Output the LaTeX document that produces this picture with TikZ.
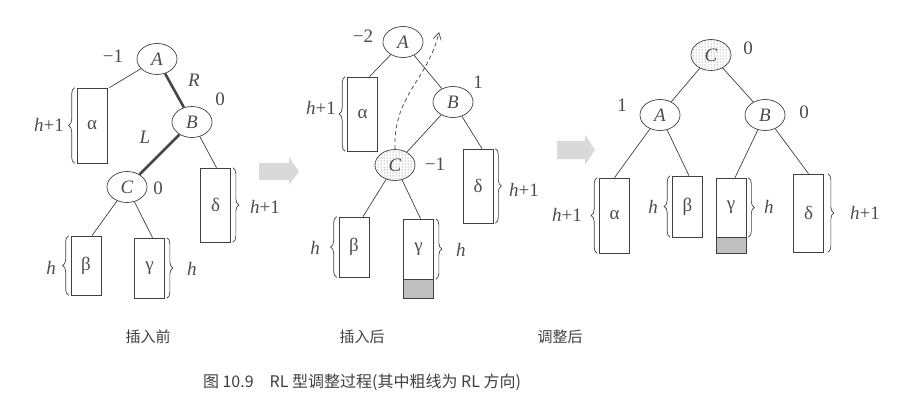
\documentclass[tikz,border=0pt]{standalone}
\usepackage{fontspec}
\setmainfont{Liberation Serif}
\newfontfamily\cjk{Noto Sans CJK SC}
\usetikzlibrary{shapes.geometric,decorations.pathreplacing,patterns,arrows.meta}
\begin{document}
\begin{tikzpicture}[x=1pt,y=-1pt,
  tnode/.style={ellipse,draw=black!75,line width=0.7pt,minimum width=40pt,minimum height=31pt,inner sep=0pt,font=\fontsize{19}{21}\selectfont\itshape,text=black!70},
  hot/.style={tnode,pattern=dots,pattern color=black!65},
  sub/.style={rectangle,draw=black!75,line width=0.7pt,minimum width=30pt,inner sep=0pt,font=\fontsize{19}{21}\selectfont,text=black!70},
  subfill/.style={sub,fill=black!25,minimum height=19pt,anchor=north},
  tedge/.style={draw=black!75,line width=0.7pt},
  thick edge/.style={draw=black!72,line width=2.6pt},
  lbl/.style={font=\fontsize{19}{21}\selectfont,text=black!70,inner sep=1pt},
  brc/.style={decorate,decoration={brace,amplitude=6pt},draw=black!75,line width=0.7pt},
  blk/.style={fill=black!15,draw=none},
  capt/.style={font=\cjk\fontsize{15}{17}\selectfont,text=black!75},
  figcapt/.style={font=\cjk\fontsize{16}{18}\selectfont,text=black!75}
]
\useasboundingbox (0,0) rectangle (902,407);

% ---------------- panel 1 ----------------
\node[tnode] (A1) at (157,59) {A};
\node[tnode] (B1) at (192,122) {B};
\node[tnode] (C1) at (127,187) {C};
\node[sub,minimum height=75pt] (al1) at (92,125.5) {α};
\node[sub,minimum height=74pt] (de1) at (215.5,205) {δ};
\node[sub,minimum height=59pt] (be1) at (86,265.5) {β};
\node[sub,minimum height=60pt] (ga1) at (149.5,268) {γ};
\draw[tedge] (A1) -- ([xshift=2pt]al1.north east);
\draw[thick edge] (A1) -- (B1);
\draw[thick edge] (B1) -- (C1);
\draw[tedge] (B1) -- ([xshift=1pt]de1.north);
\draw[tedge] (C1) -- ([xshift=6pt]be1.north);
\draw[tedge] (C1) -- ([xshift=3pt]ga1.north);
\node[lbl] (nA1) at (113,56) {−1};
\node[lbl] (nR1) at (194,80) {\textit{R}};
\node[lbl] (nB1) at (220,99) {0};
\node[lbl] (nL1) at (145,137) {\textit{L}};
\node[lbl] (nC1) at (158,188) {0};
\draw[brc] ([xshift=-2pt]al1.south west) -- ([xshift=-2pt]al1.north west);
\node[lbl,anchor=east] (hal1) at (65,125) {\textit{h}+1};
\draw[brc] ([xshift=2pt]de1.north east) -- ([xshift=2pt]de1.south east);
\node[lbl,anchor=west] (hde1) at (249,207) {\textit{h}+1};
\draw[brc] ([xshift=-2pt]be1.south west) -- ([xshift=-2pt]be1.north west);
\node[lbl,anchor=east] (hbe1) at (57,268) {\textit{h}};
\draw[brc] ([xshift=2pt]ga1.north east) -- ([xshift=2pt]ga1.south east);
\node[lbl,anchor=west] (hga1) at (186,269) {\textit{h}};

% block arrow 1
\fill[blk] (259,163) -- (289,163) -- (289,157) -- (299,171.5) -- (289,185) -- (289,180) -- (259,180) -- cycle;

% ---------------- panel 2 ----------------
\node[tnode] (A2) at (403,42) {A};
\node[tnode] (B2) at (453,102) {B};
\node[hot] (C2) at (395,165) {C};
\node[sub,minimum height=74pt] (al2) at (362.5,114) {α};
\node[sub,minimum height=74pt] (de2) at (478,186) {δ};
\node[sub,minimum height=60pt] (be2) at (354,247) {β};
\node[sub,minimum height=60pt] (ga2) at (418.5,249) {γ};
\node[subfill] (sh2) at (ga2.south) {};
\draw[tedge] (A2) -- ([xshift=7pt]al2.north);
\draw[tedge] (A2) -- (B2);
\draw[tedge] (B2) -- (C2);
\draw[tedge] (B2) -- ([xshift=4pt]de2.north);
\draw[tedge] (C2) -- ([xshift=9pt]be2.north);
\draw[tedge] (C2) -- ([xshift=2pt]ga2.north);
\coordinate (d2) at (439,32);
\draw[tedge,dash pattern=on 4pt off 3pt,-{Straight Barb[angle=60:8pt]}] (C2.north) .. controls (393,95) and (428,80) .. (d2);
\node[lbl] (nA2) at (363,36) {−2};
\node[lbl] (nB2) at (478,82) {1};
\node[lbl] (nC2) at (435,164) {−1};
\draw[brc] ([xshift=-2pt]al2.south west) -- ([xshift=-2pt]al2.north west);
\node[lbl,anchor=east] (hal2) at (337,108) {\textit{h}+1};
\draw[brc] ([xshift=2pt]de2.north east) -- ([xshift=2pt]de2.south east);
\node[lbl,anchor=west] (hde2) at (508,190) {\textit{h}+1};
\draw[brc] ([xshift=-2pt]be2.south west) -- ([xshift=-2pt]be2.north west);
\node[lbl,anchor=east] (hbe2) at (321,248) {\textit{h}};
\draw[brc] ([xshift=2pt]ga2.north east) -- ([xshift=2pt]ga2.south east);
\node[lbl,anchor=west] (hga2) at (455,250) {\textit{h}};

% block arrow 2
\fill[blk] (557,141) -- (585,141) -- (585,135) -- (595,150) -- (585,165) -- (585,159) -- (557,159) -- cycle;

% ---------------- panel 3 ----------------
\node[hot] (C3) at (711,55) {C};
\node[tnode] (A3) at (660,115) {A};
\node[tnode] (B3) at (765,115) {B};
\node[sub,minimum height=75pt] (al3) at (614.5,215.5) {α};
\node[sub,minimum height=61pt] (be3) at (687.5,206.5) {β};
\node[sub,minimum height=59pt] (ga3) at (731,207.5) {γ};
\node[subfill,minimum height=16pt] (sh3) at (ga3.south) {};
\node[sub,minimum height=78pt] (de3) at (808.5,213) {δ};
\draw[tedge] (C3) -- (A3);
\draw[tedge] (C3) -- (B3);
\draw[tedge] (A3) -- (al3.north);
\draw[tedge] (A3) -- ([xshift=1.5pt]be3.north);
\draw[tedge] (B3) -- ([xshift=4pt]ga3.north);
\draw[tedge] (B3) -- (de3.north);
\node[lbl] (nC3) at (748,48) {0};
\node[lbl] (nA3) at (622,105) {1};
\node[lbl] (nB3) at (804,112) {0};
\draw[brc] ([xshift=-2pt]al3.south west) -- ([xshift=-2pt]al3.north west);
\node[lbl,anchor=east] (hal3) at (583,215) {\textit{h}+1};
\draw[brc] ([xshift=-2pt]be3.south west) -- ([xshift=-2pt]be3.north west);
\node[lbl,anchor=east] (hbe3) at (659,207) {\textit{h}};
\draw[brc] ([xshift=2pt]ga3.north east) -- ([xshift=2pt]ga3.south east);
\node[lbl,anchor=west] (hga3) at (763,207) {\textit{h}};
\draw[brc] ([xshift=4pt]de3.north east) -- ([xshift=4pt]de3.south east);
\node[lbl,anchor=west] (hde3) at (849,213) {\textit{h}+1};

% ---------------- captions ----------------
\node[capt] (t1) at (148,337) {插入前};
\node[capt] (t2) at (362,337) {插入后};
\node[capt] (t3) at (560,337) {调整后};
\node[figcapt] (t4) at (362,382) {图 10.9\quad RL 型调整过程(其中粗线为 RL 方向)};
\end{tikzpicture}
\end{document}
